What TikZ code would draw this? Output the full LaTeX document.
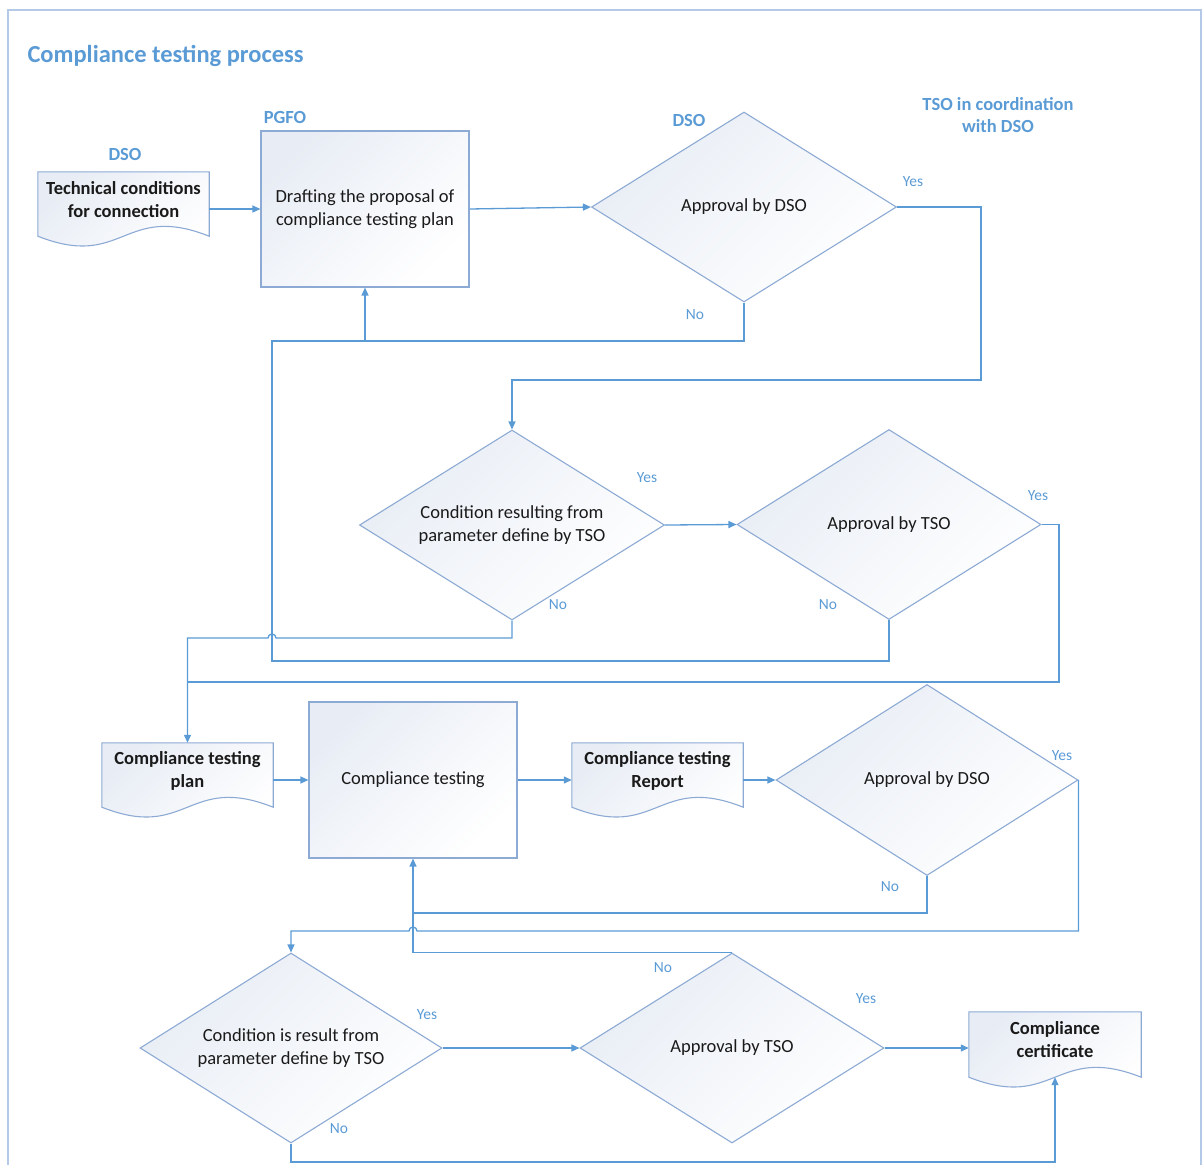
\documentclass[tikz,border=0pt]{standalone}
\usepackage{fontspec}
\setmainfont{Carlito}
\usetikzlibrary{shapes.geometric,arrows.meta,calc}
\definecolor{connc}{HTML}{5B9BD5}
\definecolor{shapec}{HTML}{8DAAD4}
\definecolor{fillc}{HTML}{E8EDF5}
\definecolor{framec}{HTML}{B4C9E8}
\definecolor{labc}{HTML}{5B9BD5}
\definecolor{textc}{HTML}{1A1A1A}
\newcommand\drawdoc[1]{\path[docshape] (#1.north west) -- (#1.north east) -- (#1.south east) .. controls ($(#1.south)+(0,-34)$) and ($(#1.south)+(0,34)$) .. (#1.south west) -- cycle;}
\tikzset{
  bodyfont/.style={font=\fontsize{18.5}{22.5}\selectfont, text=textc},
  box/.style={rectangle, draw=shapec, line width=1.1pt, top color=fillc, bottom color=white, shading angle=45, minimum width=208, minimum height=156, inner sep=0, align=center, bodyfont},
  dia/.style={diamond, draw=shapec, line width=1.1pt, top color=fillc, bottom color=white, shading angle=45, minimum width=304, minimum height=190, inner sep=0, aspect=1.6, align=center, bodyfont},
  docframe/.style={rectangle, minimum width=171, minimum height=64, inner sep=0, draw=none},
  docshape/.style={draw=shapec, line width=1.1pt, top color=fillc, bottom color=white, shading angle=45},
  doctext/.style={align=center, text=textc, font=\bfseries\fontsize{18.5}{23}\selectfont},
  conn/.style={draw=connc, line width=1.3pt},
  arr/.style={conn, -{Triangle[length=8pt,width=7pt]}},
  lab/.style={text=labc, font=\fontsize{15.5}{18}\selectfont},
  role/.style={text=labc, align=center, font=\bfseries\fontsize{18.5}{22}\selectfont},
}
\begin{document}
\begin{tikzpicture}[x=1pt,y=-1pt]
\useasboundingbox (0,0) rectangle (1203,1165);
% frame
\draw[framec, line width=2.5pt] (8,1170) -- (8,10) -- (1201,10) -- (1201,1170);
% title and roles
\node[anchor=west, text=labc, font=\bfseries\fontsize{24.5}{28}\selectfont] (title) at (24,56) {Compliance testing process};
\node[role] (r1) at (125,154) {DSO};
\node[role] (r2) at (285,117) {PGFO};
\node[role] (r3) at (689,120) {DSO};
\node[role] (r4) at (998,115) {TSO in coordination\\with DSO};
% documents
\node[docframe] (doc1) at (123.5,204) {};
\drawdoc{doc1}
\node[doctext] (doc1t) at (123.5,200) {Technical conditions\\for connection};
\node[docframe] (doc2) at (187.5,775) {};
\drawdoc{doc2}
\node[doctext] (doc2t) at (187.5,771) {Compliance testing\\plan};
\node[docframe] (doc3) at (657.5,775) {};
\drawdoc{doc3}
\node[doctext] (doc3t) at (657.5,771) {Compliance testing\\Report};
\node[docframe, minimum width=172, minimum height=65] (doc4) at (1055,1044.5) {};
\drawdoc{doc4}
\node[doctext] (doc4t) at (1055,1040) {Compliance\\certificate};
% process boxes
\node[box] (rect1) at (365,209) {Drafting the proposal of\\compliance testing plan};
\node[box] (rect2) at (413,780) {Compliance testing};
% decisions
\node[dia, minimum width=305] (d1) at (744,207) {Approval by DSO};
\node[dia, minimum width=305] (d2) at (512,525) {Condition resulting from\\parameter define by TSO};
\node[dia] (d3) at (889,524.5) {Approval by TSO};
\node[dia, minimum width=302, minimum height=191] (d4) at (927,780) {Approval by DSO};
\node[dia, minimum width=302] (d5) at (291,1048) {Condition is result from\\parameter define by TSO};
\node[dia] (d6) at (732,1048) {Approval by TSO};
% helper coordinates
\coordinate (y1) at (981,380);
\coordinate (n1) at (365,341);
\coordinate (n3) at (272,661);
\coordinate (h1r) at (276,638);
\coordinate (y3) at (1059,682);
\coordinate (n4) at (413,913);
\coordinate (h2r) at (417,931);
\coordinate (n5) at (1055,1162);
% connectors
\draw[arr] (doc1.east |- rect1.west) -- (rect1.west);
\draw[arr] (rect1.east) -- (d1.west);
\draw[arr] (d1.east) -| (y1) -| (d2.north);
\draw[arr] (d1.south) |- (n1) -- (rect1.south);
\draw[arr] (d2.east) -- (d3.west);
\draw[conn] (d3.south) |- (n3) |- (n1);
\draw[arr] (d2.south) |- (h1r) arc[start angle=0, end angle=180, radius=4pt] -| (doc2.north);
\draw[conn] (d3.east) -| (y3) -- (doc2.north |- y3);
\draw[arr] (doc2.east |- rect2.west) -- (rect2.west);
\draw[arr] (rect2.east) -- (doc3.west |- rect2.east);
\draw[arr] (doc3.east |- d4.west) -- (d4.west);
\draw[arr] (d4.south) |- (n4) -- (rect2.south);
\draw[conn] (d6.north) -| (n4);
\draw[arr] (d4.east) |- (h2r) arc[start angle=0, end angle=180, radius=4pt] -| (d5.north);
\draw[arr] (d5.east) -- (d6.west);
\draw[arr] (d6.east) -- (doc4.west |- d6.east);
\draw[arr] (d5.south) |- (n5) -- (doc4.south);
% yes / no labels
\node[lab] (l1y) at (913,182) {Yes};
\node[lab] (l1n) at (695,315) {No};
\node[lab] (l2y) at (647,478) {Yes};
\node[lab] (l2n) at (558,605) {No};
\node[lab] (l3y) at (1038,496) {Yes};
\node[lab] (l3n) at (828,605) {No};
\node[lab] (l4y) at (1062,756) {Yes};
\node[lab] (l4n) at (890,887) {No};
\node[lab] (l5y) at (427,1015) {Yes};
\node[lab] (l5n) at (339,1129) {No};
\node[lab] (l6y) at (866,999) {Yes};
\node[lab] (l6n) at (663,968) {No};
\end{tikzpicture}
\end{document}
